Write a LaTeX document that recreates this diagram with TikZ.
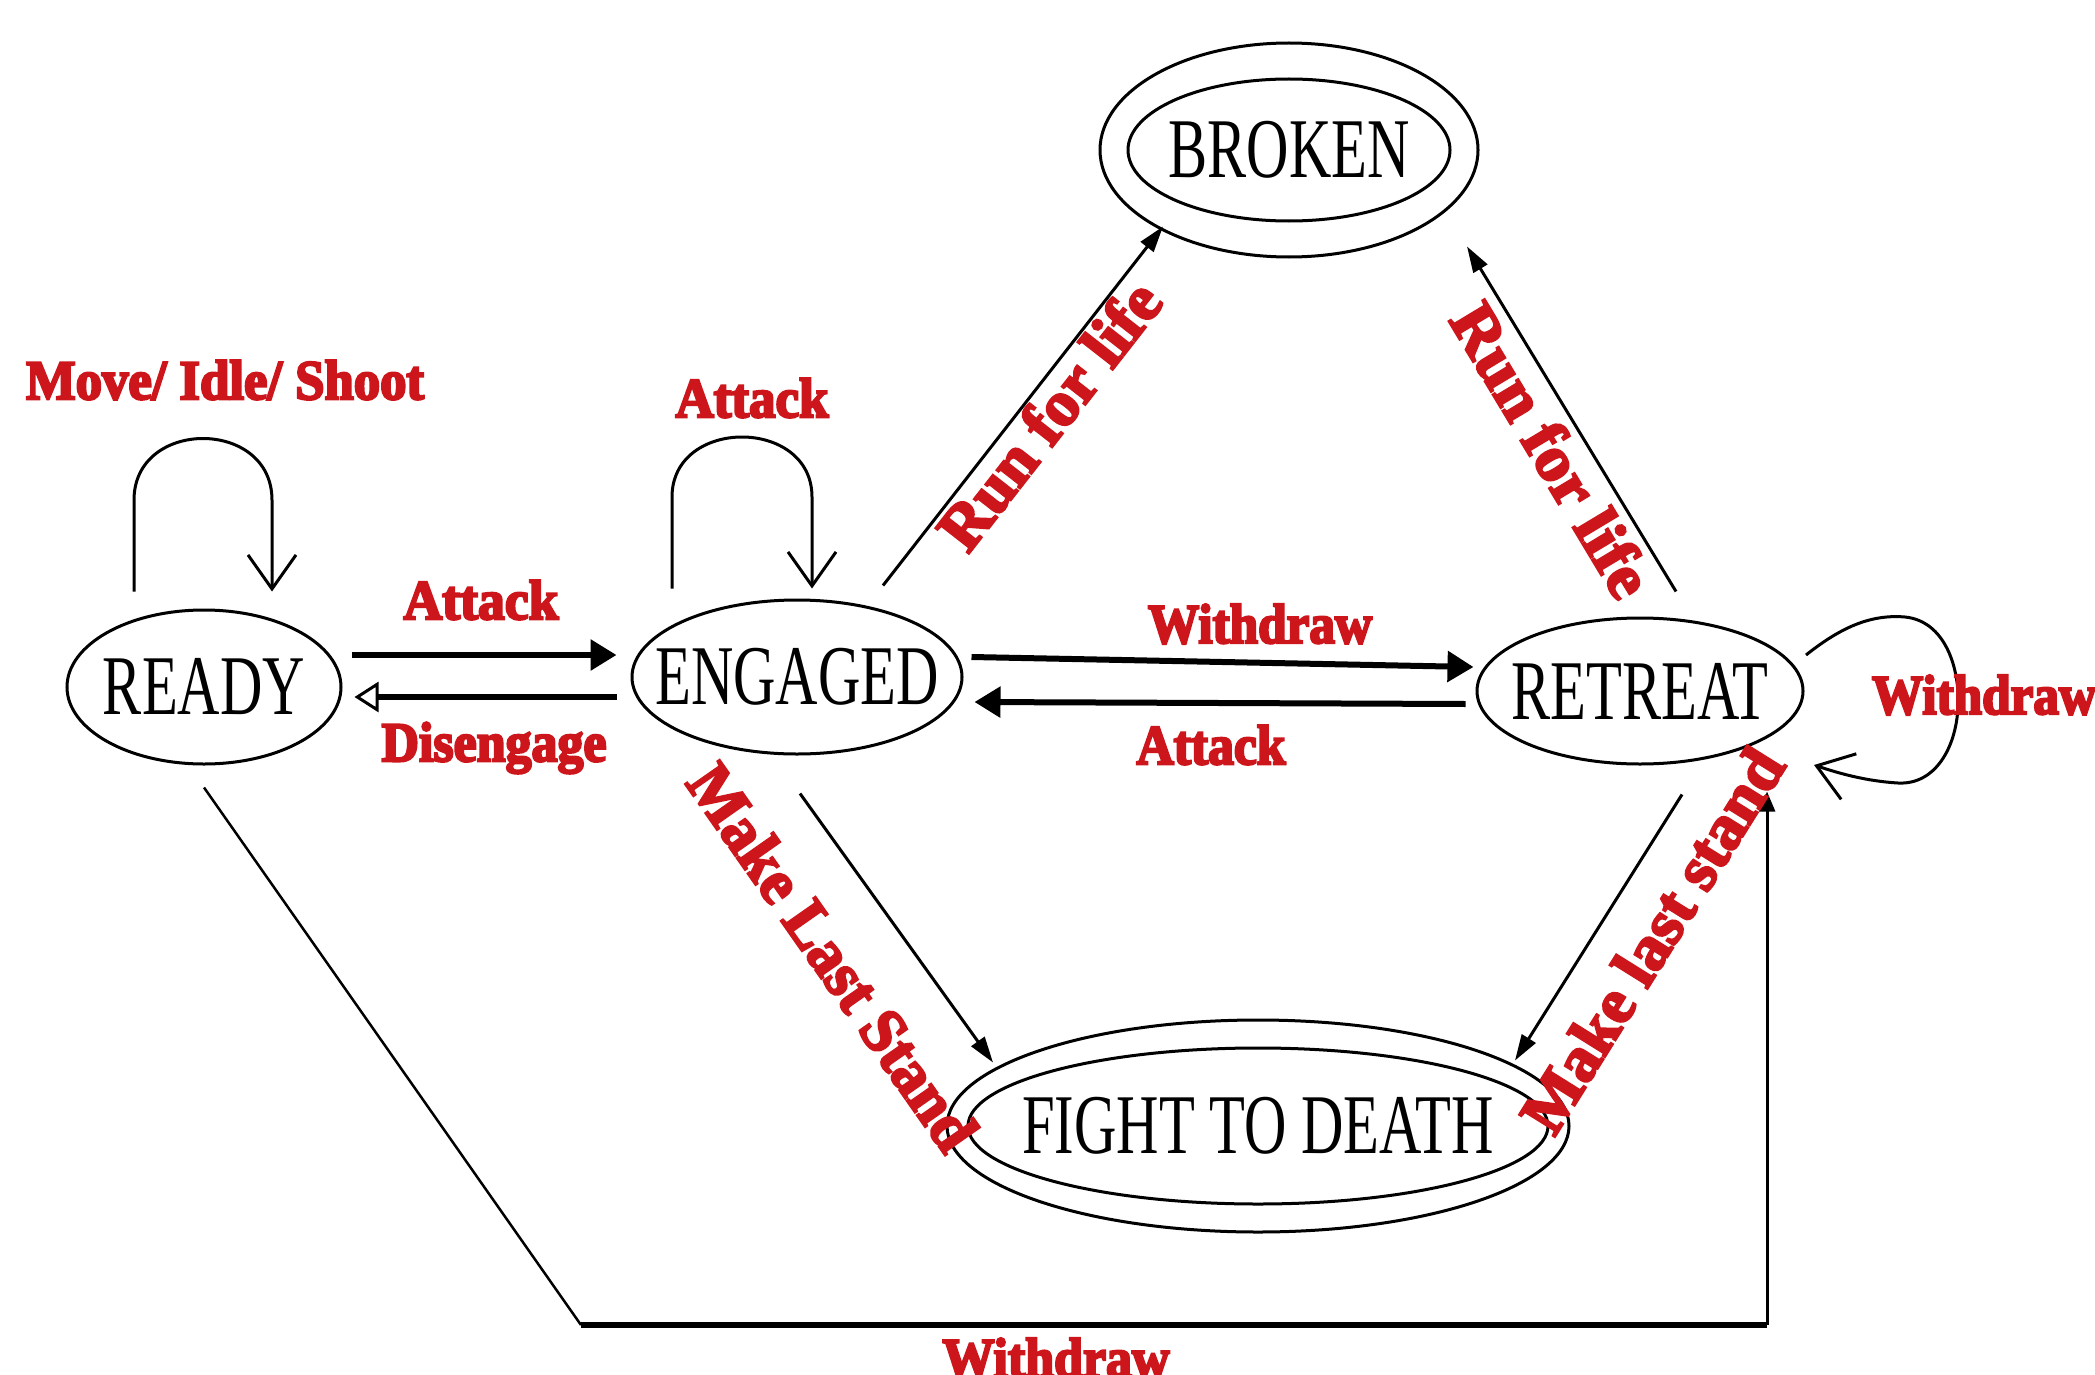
\documentclass[tikz,border=0pt]{standalone}
\usepackage{fontspec}
\usepackage{graphicx}
\setmainfont{Liberation Serif}
\newfontfamily\lblfont{Liberation Serif}
\usetikzlibrary{shapes.geometric,arrows.meta}
\definecolor{lblred}{RGB}{205,22,28}
\newcommand\statetxt[1]{\fontsize{85}{85}\selectfont\scalebox{0.69}[1]{#1}}
% size, target width, text (drawn with fill + stroke for extra weight)
\newcommand\lbltxt[3]{\lblfont\bfseries\fontsize{#1}{#1}\selectfont\resizebox{#2pt}{\height}{\special{pdf:literal direct 2 Tr 2.4 w}#3\special{pdf:literal direct 0 Tr}}}
\begin{document}
\begin{tikzpicture}[x=1pt,y=-1pt,
  state/.style={draw, ellipse, line width=3pt, inner sep=0pt},
  stxt/.style={inner sep=0pt},
  lbl/.style={text=lblred, inner sep=0pt},
  bigarrow/.style={line width=6pt, -{Triangle[length=26pt,width=30pt]}},
  openarrow/.style={line width=6pt, -{Triangle[open,length=24pt,width=30pt,fill=white,line width=3pt]}},
  slimarrow/.style={line width=3pt, -{Triangle[length=26pt,width=16pt]}},
  looparrow/.style={line width=3pt, -{Straight Barb[length=34pt,width=48pt]}},
  conn/.style={line width=3pt}
]
\fill[white] (0,0) rectangle (2095,1375);
\useasboundingbox (0,0) rectangle (2095,1375);

% states
\node[state, minimum width=274pt, minimum height=154pt] (ready) at (204,687) {};
\node[stxt] (readyt) at (ready.center) {\statetxt{READY}};
\node[state, minimum width=330pt, minimum height=154pt] (engaged) at (797,677) {};
\node[stxt] (engagedt) at (engaged.center) {\statetxt{ENGAGED}};
\node[state, minimum width=326pt, minimum height=146pt] (retreat) at (1640,691) {};
\node[stxt] (retreatt) at (retreat.center) {\statetxt{RETREAT}};
\node[state, minimum width=378pt, minimum height=214pt] (broken) at (1289,150) {};
\node[state, minimum width=322pt, minimum height=142pt] (brokenin) at (broken.center) {};
\node[stxt] (brokent) at (broken.center) {\statetxt{BROKEN}};
\node[state, minimum width=622pt, minimum height=212pt] (ftd) at (1258,1126) {};
\node[state, minimum width=580pt, minimum height=156pt] (ftdin) at (ftd.center) {};
\node[stxt] (ftdt) at (ftd.center) {\statetxt{FIGHT TO DEATH}};

% horizontal transitions
\draw[bigarrow] ([xshift=9pt,yshift=32pt]ready.east) -- ([xshift=-14pt,yshift=22pt]engaged.west);
\draw[openarrow] ([xshift=-14pt,yshift=-20pt]engaged.west) -- ([xshift=12pt,yshift=-10pt]ready.east);
\draw[bigarrow] ([xshift=8pt,yshift=20pt]engaged.east) -- ([xshift=-2pt,yshift=24pt]retreat.west);
\draw[bigarrow] ([xshift=-10pt,yshift=-13pt]retreat.west) -- ([xshift=11pt,yshift=-25pt]engaged.east);

% diagonal transitions
\draw[slimarrow] ([xshift=86pt,yshift=13pt]engaged.north) -- ([xshift=-126pt,yshift=32pt]broken.south);
\draw[slimarrow] ([xshift=36pt,yshift=25pt]retreat.north) -- ([xshift=178pt,yshift=12pt]broken.south);
\draw[slimarrow] ([xshift=3pt,yshift=-38pt]engaged.south) -- ([xshift=-265pt,yshift=-44pt]ftd.north);
\draw[slimarrow] ([xshift=42pt,yshift=-29pt]retreat.south) -- ([xshift=257pt,yshift=-42pt]ftd.north);

% bottom withdraw path
\coordinate (wb1) at (581,1325);
\coordinate (wb2) at (1767,1325);
\draw[line width=2.5pt] ([yshift=-22pt]ready.south) -- (wb1);
\draw[line width=6pt] (wb1) -- (wb2);
\draw[conn, -{Triangle[length=20pt,width=16pt]}] (wb2) -- ([xshift=127pt,yshift=-26pt]retreat.south);

% self loops
\draw[looparrow] ([xshift=-70pt,yshift=17pt]ready.north) -- (134,500) .. controls (134,418) and (272,418) .. (272,500) -- ([xshift=68pt,yshift=17pt]ready.north);
\draw[looparrow] ([xshift=-125pt,yshift=10pt]engaged.north) -- (672,497) .. controls (672,417) and (812,417) .. (812,497) -- ([xshift=15pt,yshift=10pt]engaged.north);
\draw[looparrow] ([xshift=166pt,yshift=36pt]retreat.center) .. controls (1840,628) and (1870,614) .. (1905,617) .. controls (1945,621) and (1960,668) .. (1958,707) .. controls (1956,748) and (1935,785) .. (1898,783) .. controls (1865,781) and (1838,773) .. ([xshift=174pt,yshift=-74pt]retreat.center);

% labels
\node[lbl] (l1) at (225,380) {\lbltxt{56}{398}{Move/ Idle/ Shoot}};
\node[lbl] (l2) at (752,398) {\lbltxt{56}{153}{Attack}};
\node[lbl] (l3) at (481,600) {\lbltxt{56}{155}{Attack}};
\node[lbl] (l4) at (494,748) {\lbltxt{56}{225}{Disengage}};
\node[lbl] (l5) at (1260,624) {\lbltxt{56}{224}{Withdraw}};
\node[lbl] (l6) at (1211,745) {\lbltxt{56}{149}{Attack}};
\node[lbl, rotate=52] (l7) at (1049,415) {\lbltxt{64}{320}{Run for life}};
\node[lbl, rotate=-59] (l8) at (1552,450) {\lbltxt{64}{330}{Run for life}};
\node[lbl, rotate=-55] (l9) at (833,957) {\lbltxt{64}{455}{Make Last Stand}};
\node[lbl, rotate=58] (l10) at (1652,940) {\lbltxt{64}{439}{Make last stand}};
\node[lbl] (l11) at (1984,695) {\lbltxt{56}{224}{Withdraw}};
\node[lbl, anchor=base] (l12) at (1056,1377) {\lbltxt{56}{227}{Withdraw}};
\end{tikzpicture}
\end{document}
